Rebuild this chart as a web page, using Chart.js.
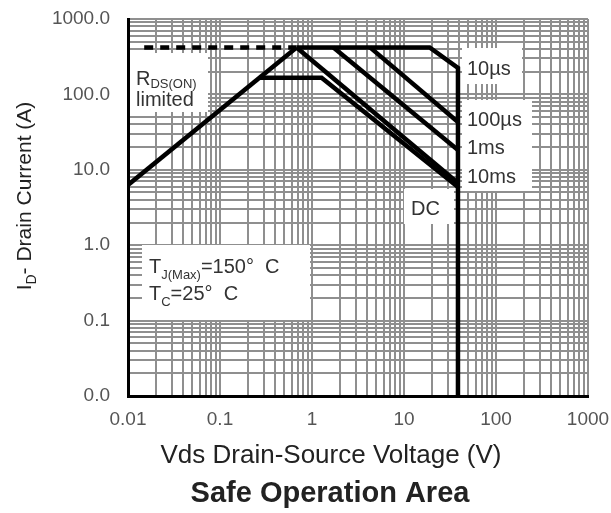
<!DOCTYPE html>
<html>
<head>
<meta charset="utf-8">
<script src="https://cdn.jsdelivr.net/npm/chart.js@4.4.1/dist/chart.umd.min.js"></script>
<style>
  html, body { margin: 0; padding: 0; background: #fff; }
</style>
</head>
<body>
<canvas id="soaChart" width="611" height="513"></canvas>
<script>
// axis decades and their labels
const xDecades = [0.01, 0.1, 1, 10, 100, 1000];
const xTickLabels = ['0.01', '0.1', '1', '10', '100', '1000'];
const yDecades = [0.01, 0.1, 1, 10, 100, 1000];
const yTickLabels = ['0.0', '0.1', '1.0', '10.0', '100.0', '1000.0'];

// SOA boundaries: Vds (V) and Id (A)
const rdsVds = [0.01, 0.68];
const rdsId = [6.3, 420];
const rdsDashVds = [0.015, 0.68];
const rdsDashId = [420, 420];
const us10Vds = [0.68, 19, 38.6, 38.6];
const us10Id = [420, 420, 224, 0.01];
const us100Vds = [4.27, 38.6];
const us100Id = [420, 43];
const ms1Vds = [1.71, 38.6];
const ms1Id = [420, 18.3];
const ms10Vds = [0.68, 38.6];
const ms10Id = [420, 6.7];
const dcVds = [0.27, 1.27, 38.6];
const dcId = [166, 166, 5.9];

const FONT = "'Liberation Sans', Arial, sans-serif";

function pts(xs, ys) {
  return xs.map((x, i) => ({ x: x, y: ys[i] }));
}

// 1..9 per decade, so the grid gets every minor line
function gridValues(decades) {
  const out = [];
  decades.forEach((d, i) => {
    if (i === decades.length - 1) { out.push(d); return; }
    for (let m = 1; m <= 9; m++) out.push(m * d);
  });
  return out;
}

function decadeLabel(value, decades, labels) {
  for (let i = 0; i < decades.length; i++) {
    if (Math.abs(Math.log10(value) - Math.log10(decades[i])) < 1e-6) return labels[i];
  }
  return '';
}

function line(data, width, dash) {
  return {
    data: data,
    showLine: true,
    borderColor: '#000',
    borderWidth: width,
    borderDash: dash || [],
    pointRadius: 0,
    fill: false
  };
}

// draw text with sub-script parts; runs = [[text, size, dy], ...]
function drawRuns(ctx, x, y, runs) {
  runs.forEach(r => {
    ctx.font = r[1] + 'px ' + FONT;
    ctx.fillText(r[0], x, y + (r[2] || 0));
    x += ctx.measureText(r[0]).width;
  });
}

function runsWidth(ctx, runs) {
  let w = 0;
  runs.forEach(r => { ctx.font = r[1] + 'px ' + FONT; w += ctx.measureText(r[0]).width; });
  return w;
}

const notes = {
  id: 'notes',
  beforeDatasetsDraw(chart) {
    const ctx = chart.ctx;
    ctx.save();
    ctx.fillStyle = '#fff';
    ctx.fillRect(130, 53, 78, 59);   // RDS(ON)
    ctx.fillRect(462, 48, 60, 36);   // 10us
    ctx.fillRect(462, 100, 70, 91);  // 100us / 1ms / 10ms
    ctx.fillRect(404, 189, 50, 35);  // DC
    ctx.fillRect(142, 245, 168, 75); // Tj / Tc
    ctx.restore();
  },
  afterDatasetsDraw(chart) {
    const ctx = chart.ctx;
    ctx.save();
    ctx.fillStyle = '#333';
    ctx.textAlign = 'left';
    ctx.textBaseline = 'alphabetic';
    drawRuns(ctx, 136, 85, [['R', 20], ['DS(ON)', 13, 3]]);
    drawRuns(ctx, 136, 106, [['limited', 20]]);
    drawRuns(ctx, 467, 75, [['10µs', 20]]);
    drawRuns(ctx, 467, 126, [['100µs', 20]]);
    drawRuns(ctx, 467, 154, [['1ms', 20]]);
    drawRuns(ctx, 467, 183, [['10ms', 20]]);
    drawRuns(ctx, 411, 215, [['DC', 20]]);
    drawRuns(ctx, 149, 273, [['T', 20], ['J(Max)', 13, 6], ['=150°  C', 20]]);
    drawRuns(ctx, 149, 300, [['T', 20], ['C', 13, 6], ['=25°  C', 20]]);
    ctx.restore();
  },
  afterDraw(chart) {
    const ctx = chart.ctx;
    ctx.save();
    ctx.fillStyle = '#222';
    ctx.textBaseline = 'alphabetic';
    ctx.textAlign = 'center';
    ctx.font = '26px ' + FONT;
    ctx.fillText('Vds Drain-Source Voltage (V)', 331, 463);
    ctx.font = 'bold 29px ' + FONT;
    ctx.fillText('Safe Operation Area', 330, 502);

    // y title, rotated, with subscript D
    const yRuns = [['I', 21], ['D', 14, 5], ['- Drain Current (A)', 21]];
    ctx.translate(31, 196);
    ctx.rotate(-Math.PI / 2);
    ctx.textAlign = 'left';
    drawRuns(ctx, -runsWidth(ctx, yRuns) / 2, 0, yRuns);
    ctx.restore();
  }
};

const tickFont = { family: FONT, size: 19 };
const gridStyle = { color: '#8f8f8f', lineWidth: 2, drawTicks: false };
const axisBorder = { color: '#000', width: 3 };

new Chart(document.getElementById('soaChart').getContext('2d'), {
  type: 'scatter',
  data: {
    datasets: [
      line(pts(rdsVds, rdsId), 4.5),
      line(pts(rdsDashVds, rdsDashId), 4.5, [9, 7]),
      line(pts(us10Vds, us10Id), 4.5),
      line(pts(us100Vds, us100Id), 4.5),
      line(pts(ms1Vds, ms1Id), 4.5),
      line(pts(ms10Vds, ms10Id), 4.5),
      line(pts(dcVds, dcId), 4.5)
    ]
  },
  options: {
    responsive: false,
    animation: false,
    layout: { padding: { top: 19, right: 23, left: 0, bottom: 0 } },
    plugins: {
      legend: { display: false },
      tooltip: { enabled: false }
    },
    scales: {
      x: {
        type: 'logarithmic',
        min: 0.01,
        max: 1000,
        afterBuildTicks: s => { s.ticks = gridValues(xDecades).map(v => ({ value: v })); },
        afterFit: s => {
          s.height = 117;
          s.paddingLeft = 0; s.paddingRight = 0;
        },
        ticks: {
          autoSkip: false,
          maxRotation: 0,
          padding: 12,
          color: '#555',
          font: tickFont,
          callback: v => decadeLabel(v, xDecades, xTickLabels)
        },
        grid: gridStyle,
        border: axisBorder
      },
      y: {
        type: 'logarithmic',
        min: 0.01,
        max: 1000,
        afterBuildTicks: s => { s.ticks = gridValues(yDecades).map(v => ({ value: v })); },
        afterFit: s => {
          s.width = 128;
          s.paddingTop = 0; s.paddingBottom = 0;
        },
        ticks: {
          autoSkip: false,
          padding: 18,
          color: '#555',
          font: tickFont,
          callback: v => decadeLabel(v, yDecades, yTickLabels)
        },
        grid: gridStyle,
        border: axisBorder
      }
    }
  },
  plugins: [notes]
});
</script>
</body>
</html>
